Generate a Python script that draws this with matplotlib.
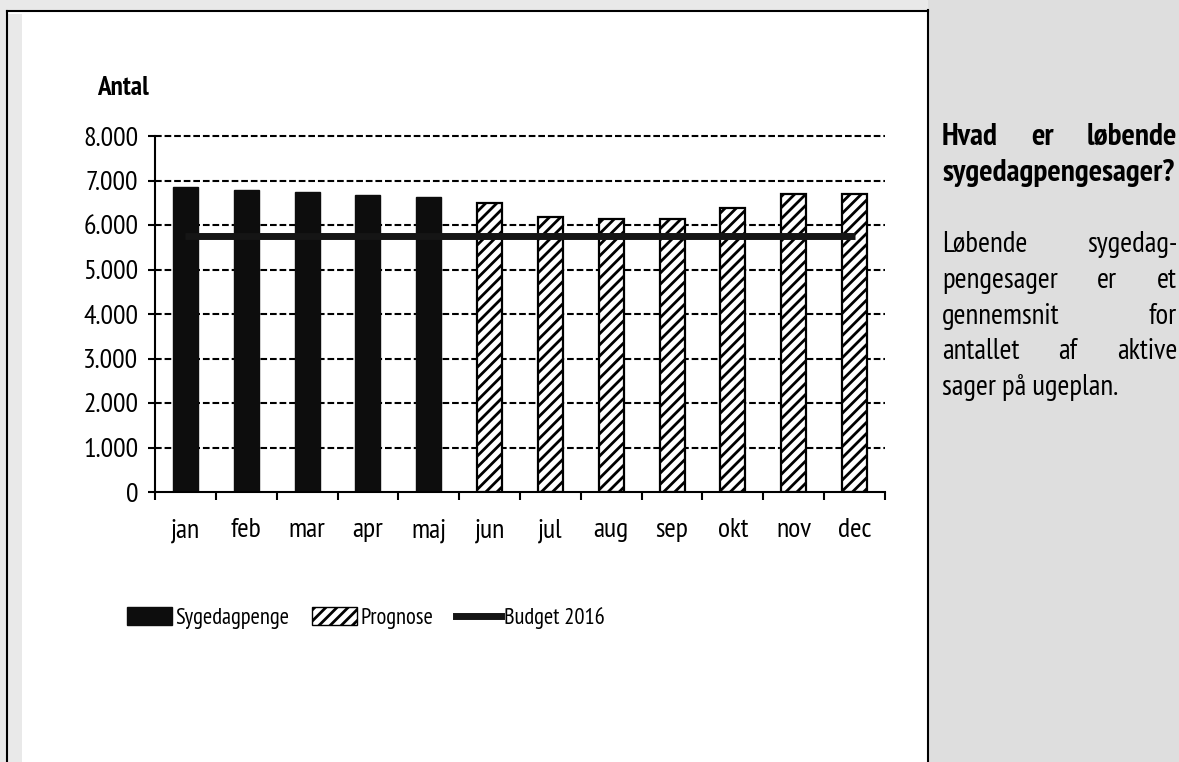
import numpy as np
import matplotlib
matplotlib.use("Agg")
import matplotlib.pyplot as plt
from matplotlib import font_manager
from matplotlib.patches import Rectangle, Patch
from matplotlib.lines import Line2D

# data aflaest fra figuren
maaneder = ['jan', 'feb', 'mar', 'apr', 'maj', 'jun', 'jul', 'aug', 'sep', 'okt', 'nov', 'dec']
sygedagpenge = [6860, 6790, 6740, 6680, 6630]           # jan-maj, faktisk
prognose = [6500, 6190, 6130, 6140, 6390, 6700, 6700]   # jun-dec
budget_2016 = 5760
y_ticks = [0, 1000, 2000, 3000, 4000, 5000, 6000, 7000, 8000]
serie_navne = ['Sygedagpenge', 'Prognose', 'Budget 2016']

overskrift = ["Hvad er løbende", "sygedagpengesager?"]
broedtekst = ["Løbende sygedag-", "pengesager er et", "gennemsnit for",
              "antallet af aktive", "sager på ugeplan."]

W, H = 1179, 762


def vaegt(w):
    return w if isinstance(w, int) else font_manager.weight_dict.get(w, 400)


# smal skrift med fed variant, som i originalen (Arial Narrow-agtig)
fed = {f.name for f in font_manager.fontManager.ttflist if vaegt(f.weight) >= 600}
smal = 'DejaVu Sans'
for navn in ['Liberation Sans Narrow', 'Arial Narrow', 'Archivo Narrow', 'PT Sans Narrow',
             'Roboto Condensed', 'IBM Plex Sans Condensed', 'Open Sans Condensed',
             'Barlow Semi Condensed', 'Saira SemiCondensed', 'Barlow Condensed',
             'Sofia Sans Semi Condensed']:
    if navn in fed:
        smal = navn
        break
plt.rcParams['font.family'] = [smal, 'DejaVu Sans']
plt.rcParams['hatch.linewidth'] = 2.0
plt.rcParams['hatch.color'] = 'black'

fig = plt.figure(figsize=(W / 100, H / 100), dpi=100, facecolor='#e9e9e9')
renderer = fig.canvas.get_renderer()


def fx(px):
    return px / W


def fy(py):
    return 1 - py / H


def tilpas(tekst, maal_px, **kw):
    # skriftstoerrelse der giver teksten den oenskede bredde
    t = fig.text(0, 0, tekst, fontsize=10, **kw)
    b = t.get_window_extent(renderer).width
    t.remove()
    return 10 * maal_px / b


fs_akse = tilpas('8.000', 55)
fs_antal = tilpas('Antal', 52, weight='bold')
fs_sig = tilpas('Sygedagpenge', 114)
fs_tekst = tilpas('sager på ugeplan.', 177)
fs_titel = tilpas('sygedagpengesager?', 234, weight='bold')

# baggrund / rammer
fig.add_artist(Rectangle((fx(7), 0), fx(928) - fx(7), fy(11), transform=fig.transFigure,
                         facecolor='white', edgecolor='none', zorder=-2))
fig.add_artist(Rectangle((fx(8), 0), fx(22) - fx(8), fy(14), transform=fig.transFigure,
                         facecolor='#e9e9e9', edgecolor='none', zorder=-1))
fig.add_artist(Rectangle((fx(928), 0), 1 - fx(928), 1, transform=fig.transFigure,
                         facecolor='#dedede', edgecolor='none', zorder=-2))
for xs, ys in [([fx(7), fx(928)], [fy(11), fy(11)]),
               ([fx(7), fx(7)], [fy(11), 0]),
               ([fx(928), fx(928)], [fy(10), 0])]:
    fig.add_artist(Line2D(xs, ys, transform=fig.transFigure, color='black', lw=1.5, zorder=-1))

# diagram
ax = fig.add_axes([fx(155), fy(492), fx(885) - fx(155), fy(136) - fy(492)])
ax.set_facecolor('white')
x = np.arange(len(maaneder))

for v in y_ticks[1:]:
    ax.axhline(v, color='black', lw=1.5, ls=(0, (3.2, 1.4)), zorder=1, clip_on=False)

ax.bar(x[:5], sygedagpenge, width=0.41, color='#0d0d0d', edgecolor='#0d0d0d', zorder=3)
ax.bar(x[5:], prognose, width=0.41, color='white', edgecolor='black', hatch='///', lw=1.6, zorder=3)
ax.plot([x[0], x[-1]], [budget_2016, budget_2016], color='#151515', lw=5,
        solid_capstyle='butt', zorder=4)

ax.set_xlim(-0.5, 11.5)
ax.set_ylim(0, 8000)

for s in ['top', 'right']:
    ax.spines[s].set_visible(False)
for s in ['left', 'bottom']:
    ax.spines[s].set_linewidth(1.5)
    ax.spines[s].set_zorder(5)

ax.set_yticks(y_ticks)
ax.set_yticklabels([f"{v:,}".replace(",", ".") for v in y_ticks])
ax.tick_params(axis='y', length=5, width=1.5, pad=7, labelsize=fs_akse)

ax.set_xticks(np.arange(len(maaneder) + 1) - 0.5)
ax.set_xticklabels([])
ax.tick_params(axis='x', which='major', length=6, width=1.5)
ax.set_xticks(x, minor=True)
ax.set_xticklabels(maaneder, minor=True)
ax.tick_params(axis='x', which='minor', length=0, pad=19, labelsize=fs_akse)

fig.text(fx(97), fy(95), 'Antal', fontsize=fs_antal, weight='bold', va='baseline', ha='left')

# signatur
handles = [Patch(facecolor='#0d0d0d', edgecolor='#0d0d0d'),
           Patch(facecolor='white', edgecolor='black', hatch='///'),
           Line2D([], [], color='#151515', lw=5)]
fig.legend(handles, serie_navne, loc='center left',
           bbox_to_anchor=(fx(127), fy(618)), ncol=3, frameon=False, fontsize=fs_sig,
           handlelength=2.0, handleheight=0.85, handletextpad=0.15, columnspacing=1.0,
           borderpad=0, borderaxespad=0)


# tekstboks til hoejre, lige margener
def skriv_linje(tekst, y_px, x0=942, x1=1177, lige=True, **kw):
    ordene = tekst.split()
    if not lige or len(ordene) == 1:
        fig.text(fx(x0), fy(y_px), tekst, va='baseline', ha='left', **kw)
        return
    objs = [fig.text(0, fy(y_px), o, va='baseline', ha='left', **kw) for o in ordene]
    bredder = [t.get_window_extent(renderer).width for t in objs]
    gab = ((x1 - x0) - sum(bredder)) / (len(objs) - 1)
    pos = x0
    for t, b in zip(objs, bredder):
        t.set_x(fx(pos))
        pos += b + gab


skriv_linje(overskrift[0], 145, fontsize=fs_titel, weight='bold')
skriv_linje(overskrift[1], 181, fontsize=fs_titel, weight='bold')
for i, linje in enumerate(broedtekst):
    skriv_linje(linje, 252 + i * 35.75, lige=(i < len(broedtekst) - 1), fontsize=fs_tekst)

fig.savefig('out.png', dpi=100, facecolor=fig.get_facecolor())
